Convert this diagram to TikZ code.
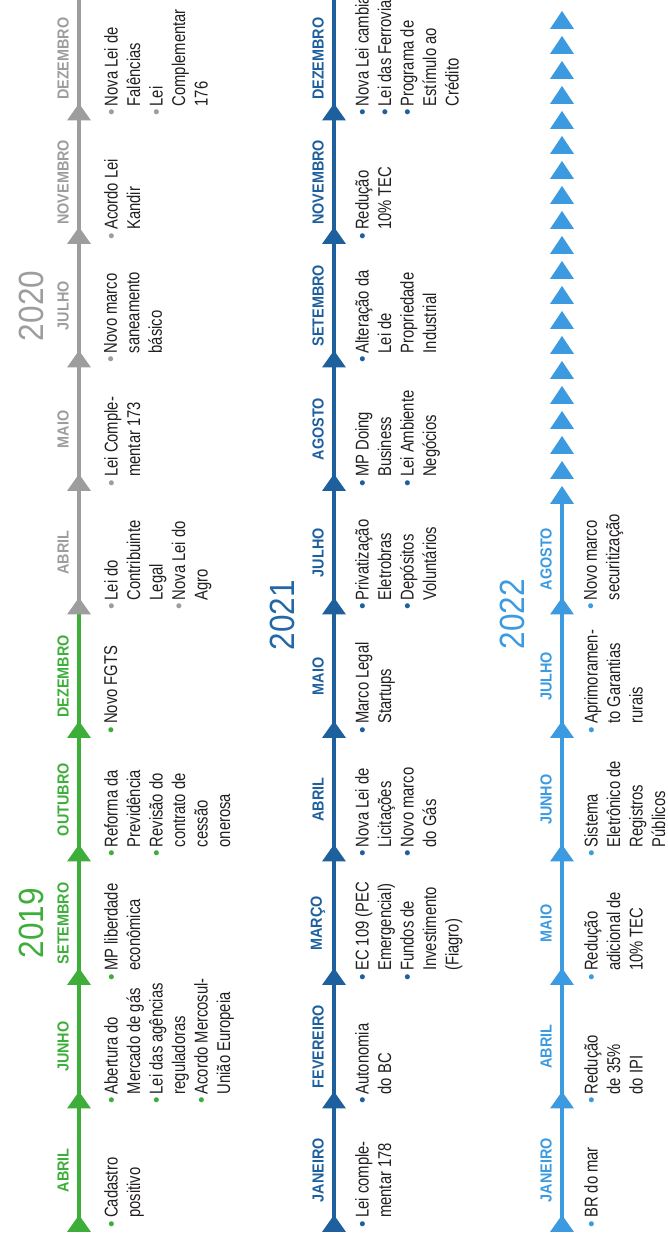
\documentclass[tikz,border=0pt]{standalone}
\usepackage{fontspec}
\setmainfont{Liberation Sans}
\newfontfamily\bodyfont[FakeStretch=0.8]{Liberation Sans}
\newfontfamily\monfont[FakeStretch=0.9]{Liberation Sans}
\newfontfamily\yearfont[FakeStretch=0.9]{Liberation Sans}
\newfontfamily\bulfont{Liberation Sans}
\definecolor{cg}{HTML}{3DAE3A}
\definecolor{cgr}{HTML}{9D9D9D}
\definecolor{cb}{HTML}{1E5F9E}
\definecolor{cl}{HTML}{3C9BE0}
\definecolor{txt}{HTML}{231F20}
\newcommand\dotgreen{\llap{{\bulfont\color{cg}•}\hspace{3pt}}}
\newcommand\dotgray{\llap{{\bulfont\color{cgr}•}\hspace{3pt}}}
\newcommand\dotdark{\llap{{\bulfont\color{cb}•}\hspace{3pt}}}
\newcommand\dotlight{\llap{{\bulfont\color{cl}•}\hspace{3pt}}}
\begin{document}
\begin{tikzpicture}[x=1pt,y=1pt,
  item/.style={rotate=90, anchor=north west, align=left, inner sep=0pt, text=txt, font={\bodyfont\fontsize{18.5}{22.5}\selectfont}},
  mon/.style={rotate=90, inner sep=0pt, font={\monfont\bfseries\fontsize{16}{16}\selectfont}},
  yr/.style={rotate=90, inner sep=0pt, font={\yearfont\fontsize{35}{35}\selectfont}},
  tl/.style={line width=4.5pt}]
\useasboundingbox[fill=white] (0,0) rectangle (668,1247);
\clip (0,0) rectangle (668,1247);
% tick coordinates
\foreach \k in {0,...,9} {
  \coordinate (A\k) at (79,{15+123.5*\k});
  \coordinate (B\k) at (334,{15+123.5*\k});
}
\foreach \k in {0,...,5} {\coordinate (C\k) at (562,{15+123.5*\k});}
\coordinate (Atop) at (79,1260);
\coordinate (Btop) at (334,1260);
\coordinate (Cend) at (562,743);
% lines
\draw[tl,cg] (A0) -- (A5);
\draw[tl,cgr] (A5) -- (Atop);
\draw[tl,cb] (B0) -- (Btop);
\draw[tl,cl] (C0) -- (Cend);
% triangles
\foreach \k in {0,...,4} \fill[cg,shift={(A\k)}] (-12,0) -- (12,0) -- (0,17) -- cycle;
\foreach \k in {5,...,9} \fill[cgr,shift={(A\k)}] (-12,0) -- (12,0) -- (0,17) -- cycle;
\foreach \k in {0,...,9} \fill[cb,shift={(B\k)}] (-12,0) -- (12,0) -- (0,17) -- cycle;
\foreach \k in {0,...,5} \fill[cl,shift={(C\k)}] (-12,0) -- (12,0) -- (0,17) -- cycle;
\foreach \j in {0,...,19} \fill[cl,shift={(562,{743+25*\j})}] (-12,0) -- (12,0) -- (0,18) -- cycle;
% years
\node[yr,text=cg] (y19) at (31,324) {2019};
\node[yr,text=cgr] (y20) at (31,941) {2020};
\node[yr,text=cb!85!cl] (y21) at (282,632) {2021};
\node[yr,text=cl] (y22) at (512,633) {2022};
% month labels A
\node[mon,text=cg] (ma0) at (63,76.75) {ABRIL};
\node[mon,text=cg] (ma1) at (63,200.25) {JUNHO};
\node[mon,text=cg] (ma2) at (63,323.75) {SETEMBRO};
\node[mon,text=cg] (ma3) at (63,447.25) {OUTUBRO};
\node[mon,text=cg] (ma4) at (63,570.75) {DEZEMBRO};
\node[mon,text=cgr] (ma5) at (63,694.25) {ABRIL};
\node[mon,text=cgr] (ma6) at (63,817.75) {MAIO};
\node[mon,text=cgr] (ma7) at (63,941.25) {JULHO};
\node[mon,text=cgr] (ma8) at (63,1064.75) {NOVEMBRO};
\node[mon,text=cgr] (ma9) at (63,1188.25) {DEZEMBRO};
% month labels B
\node[mon,text=cb] (mb0) at (318,76.75) {JANEIRO};
\node[mon,text=cb] (mb1) at (318,200.25) {FEVEREIRO};
\node[mon,text=cb] (mb2) at (318,323.75) {MARÇO};
\node[mon,text=cb] (mb3) at (318,447.25) {ABRIL};
\node[mon,text=cb] (mb4) at (318,570.75) {MAIO};
\node[mon,text=cb] (mb5) at (318,694.25) {JULHO};
\node[mon,text=cb] (mb6) at (318,817.75) {AGOSTO};
\node[mon,text=cb] (mb7) at (318,941.25) {SETEMBRO};
\node[mon,text=cb] (mb8) at (318,1064.75) {NOVEMBRO};
\node[mon,text=cb] (mb9) at (318,1188.25) {DEZEMBRO};
% month labels C
\node[mon,text=cl] (mc0) at (546,76.75) {JANEIRO};
\node[mon,text=cl] (mc1) at (546,200.25) {ABRIL};
\node[mon,text=cl] (mc2) at (546,323.75) {MAIO};
\node[mon,text=cl] (mc3) at (546,447.25) {JUNHO};
\node[mon,text=cl] (mc4) at (546,570.75) {JULHO};
\node[mon,text=cl] (mc5) at (546,688) {AGOSTO};
% items A
\node[item] (a0) at (104,29) {\dotgreen Cadastro\\positivo};
\node[item] (a1) at (104,152.5) {\dotgreen Abertura do\\Mercado de gás\\\dotgreen Lei das agências\\reguladoras\\\dotgreen Acordo Mercosul-\\União Europeia};
\node[item] (a2) at (104,276) {\dotgreen MP liberdade\\econômica};
\node[item] (a3) at (104,399.5) {\dotgreen Reforma da\\Previdência\\\dotgreen Revisão do\\contrato de\\cessão\\onerosa};
\node[item] (a4) at (104,523) {\dotgreen Novo FGTS};
\node[item] (a5) at (104,646.5) {\dotgray Lei do\\Contribuinte\\Legal\\\dotgray Nova Lei do\\Agro};
\node[item] (a6) at (104,770) {\dotgray Lei Comple-\\mentar 173};
\node[item] (a7) at (104,893.5) {\dotgray Novo marco\\saneamento\\básico};
\node[item] (a8) at (104,1017) {\dotgray Acordo Lei\\Kandir};
\node[item] (a9) at (104,1140.5) {\dotgray Nova Lei de\\Falências\\\dotgray Lei\\Complementar\\176};
% items B
\node[item] (b0) at (355,29) {\dotdark Lei comple-\\mentar 178};
\node[item] (b1) at (355,152.5) {\dotdark Autonomia\\do BC};
\node[item] (b2) at (355,276) {\dotdark EC 109 (PEC\\Emergencial)\\\dotdark Fundos de\\Investimento\\(Fiagro)};
\node[item] (b3) at (355,399.5) {\dotdark Nova Lei de\\Licitações\\\dotdark Novo marco\\do Gás};
\node[item] (b4) at (355,523) {\dotdark Marco Legal\\Startups};
\node[item] (b5) at (355,646.5) {\dotdark Privatização\\Eletrobras\\\dotdark Depósitos\\Voluntários};
\node[item] (b6) at (355,770) {\dotdark MP Doing\\Business\\\dotdark Lei Ambiente\\Negócios};
\node[item] (b7) at (355,893.5) {\dotdark Alteração da\\Lei de\\Propriedade\\Industrial};
\node[item] (b8) at (355,1017) {\dotdark Redução\\10\% TEC};
\node[item] (b9) at (355,1140.5) {\dotdark Nova Lei cambial\\\dotdark Lei das Ferrovias\\\dotdark Programa de\\Estímulo ao\\Crédito};
% items C
\node[item] (c0) at (584,29) {\dotlight BR do mar};
\node[item] (c1) at (584,152.5) {\dotlight Redução\\de 35\%\\do IPI};
\node[item] (c2) at (584,276) {\dotlight Redução\\adicional de\\10\% TEC};
\node[item] (c3) at (584,399.5) {\dotlight Sistema\\Eletrônico de\\Registros\\Públicos};
\node[item] (c4) at (584,523) {\dotlight Aprimoramen-\\to Garantias\\rurais};
\node[item] (c5) at (584,646.5) {\dotlight Novo marco\\securitização};
\end{tikzpicture}
\end{document}
